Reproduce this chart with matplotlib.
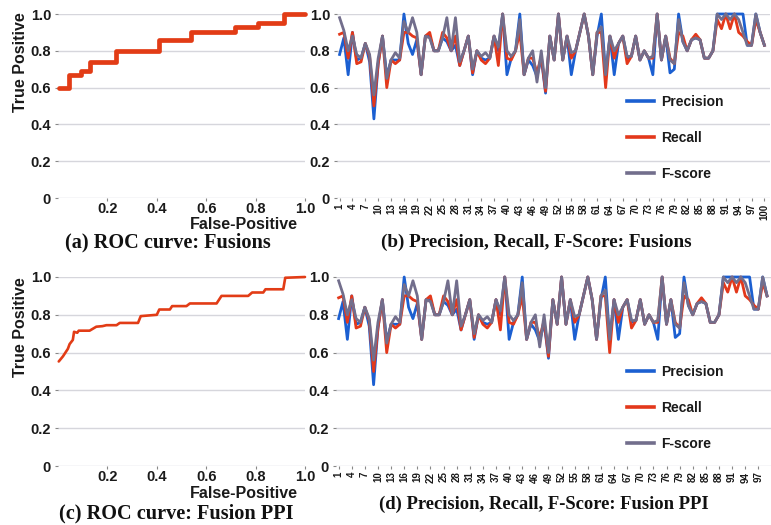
import matplotlib
matplotlib.use("Agg")
import matplotlib.pyplot as plt
import numpy as np

# ---------------- data ----------------
# ROC (a) Fusions: step curve vertices
roc_a_fpr = [0.003, 0.045, 0.045, 0.095, 0.095, 0.13, 0.13, 0.234, 0.234, 0.41, 0.41,
             0.54, 0.54, 0.716, 0.716, 0.81, 0.81, 0.916, 0.916, 1.0]
roc_a_tpr = [0.60, 0.60, 0.67, 0.67, 0.69, 0.69, 0.74, 0.74, 0.80, 0.80, 0.86,
             0.86, 0.90, 0.90, 0.93, 0.93, 0.95, 0.95, 1.00, 1.00]

# ROC (c) Fusion PPI
roc_c_fpr = [0.003, 0.02, 0.04, 0.047, 0.06, 0.065, 0.078, 0.084, 0.128, 0.155, 0.18, 0.196,
             0.237, 0.25, 0.324, 0.335, 0.40, 0.41, 0.453, 0.462, 0.52, 0.534, 0.642,
             0.662, 0.77, 0.786, 0.831, 0.84, 0.912, 0.92, 1.0]
roc_c_tpr = [0.553, 0.58, 0.62, 0.645, 0.667, 0.71, 0.705, 0.716, 0.716, 0.737, 0.74, 0.745,
             0.745, 0.757, 0.757, 0.793, 0.80, 0.828, 0.828, 0.846, 0.846, 0.86, 0.86,
             0.90, 0.90, 0.918, 0.918, 0.935, 0.935, 0.996, 1.0]

# Precision / Recall / F-score per item (Fusions, items 1..100)
precision = [0.78, 0.87, 0.67, 0.90, 0.75, 0.76, 0.84, 0.74, 0.43, 0.73,
             0.88, 0.66, 0.75, 0.75, 0.75, 1.00, 0.84, 0.78, 0.86, 0.67,
             0.88, 0.88, 0.80, 0.80, 0.87, 0.85, 0.80, 0.83, 0.72, 0.80,
             0.88, 0.67, 0.80, 0.76, 0.75, 0.76, 0.88, 0.80, 1.00, 0.67,
             0.76, 0.80, 1.00, 0.67, 0.75, 0.72, 0.66, 0.76, 0.57, 0.88,
             0.75, 1.00, 0.75, 0.88, 0.67, 0.80, 0.90, 1.00, 0.88, 0.67,
             0.88, 1.00, 0.67, 0.88, 0.67, 0.84, 0.88, 0.76, 0.77, 0.88,
             0.75, 0.80, 0.76, 0.67, 1.00, 0.75, 0.88, 0.68, 0.70, 1.00,
             0.85, 0.80, 0.86, 0.87, 0.86, 0.76, 0.76, 0.80, 1.00, 1.00,
             1.00, 1.00, 1.00, 1.00, 1.00, 0.83, 0.83, 1.00, 0.90, 0.83]
recall = [0.89, 0.90, 0.76, 0.90, 0.73, 0.74, 0.84, 0.77, 0.50, 0.73,
          0.88, 0.60, 0.75, 0.73, 0.75, 0.90, 0.90, 0.88, 0.87, 0.67,
          0.88, 0.90, 0.80, 0.80, 0.90, 0.87, 0.80, 0.88, 0.72, 0.80,
          0.88, 0.68, 0.80, 0.75, 0.73, 0.76, 0.88, 0.72, 1.00, 0.76,
          0.75, 0.80, 0.90, 0.67, 0.76, 0.76, 0.68, 0.77, 0.58, 0.88,
          0.75, 1.00, 0.75, 0.88, 0.76, 0.80, 0.90, 1.00, 0.88, 0.67,
          0.90, 0.90, 0.60, 0.88, 0.76, 0.84, 0.88, 0.73, 0.77, 0.88,
          0.75, 0.80, 0.76, 0.76, 1.00, 0.75, 0.88, 0.76, 0.73, 0.90,
          0.88, 0.80, 0.86, 0.89, 0.86, 0.76, 0.76, 0.80, 0.97, 0.92,
          1.00, 0.92, 1.00, 0.90, 0.88, 0.85, 0.83, 0.97, 0.90, 0.83]
fscore = [0.98, 0.91, 0.80, 0.88, 0.78, 0.76, 0.84, 0.78, 0.56, 0.76,
          0.88, 0.65, 0.75, 0.79, 0.76, 0.96, 0.90, 0.98, 0.90, 0.67,
          0.88, 0.87, 0.80, 0.80, 0.87, 0.98, 0.80, 0.98, 0.74, 0.80,
          0.88, 0.70, 0.80, 0.77, 0.79, 0.76, 0.88, 0.82, 1.00, 0.80,
          0.77, 0.80, 0.97, 0.67, 0.76, 0.80, 0.63, 0.80, 0.60, 0.88,
          0.75, 1.00, 0.75, 0.88, 0.79, 0.80, 0.90, 1.00, 0.88, 0.67,
          0.90, 0.93, 0.67, 0.88, 0.80, 0.84, 0.88, 0.77, 0.77, 0.88,
          0.75, 0.80, 0.76, 0.77, 1.00, 0.75, 0.88, 0.75, 0.73, 0.97,
          0.85, 0.80, 0.86, 0.87, 0.86, 0.76, 0.76, 0.80, 1.00, 0.97,
          1.00, 0.97, 1.00, 0.97, 0.90, 0.83, 0.83, 1.00, 0.90, 0.83]

# Fusion PPI (items 1..99)
precision_ppi = precision[:99]
recall_ppi = recall[:99]
fscore_ppi = fscore[:99]

roc_ticks = [0, 0.2, 0.4, 0.6, 0.8, 1.0]
roc_ylabels = ["0", "0.2", "0.4", "0.6", "0.8", "1.0"]
roc_xticks = [0.2, 0.4, 0.6, 0.8, 1.0]
roc_xlabels = ["0.2", "0.4", "0.6", "0.8", "1.0"]
series_names = ["Precision", "Recall", "F-score"]
titles = ["(a) ROC curve: Fusions", "(b) Precision, Recall, F-Score: Fusions",
          "(c) ROC curve: Fusion PPI", "(d) Precision, Recall, F-Score: Fusion PPI"]

# ---------------- styling ----------------
W, H = 771, 525
SANS = "Liberation Sans"
SERIF = "Liberation Serif"
C_BLUE = "#1b5fd1"
C_RED = "#e3381b"
C_GRAY = "#726e8c"
C_ROC = "#e23c16"
GRID = "#d6d6dc"
TXT = "#1a1a1a"

fig = plt.figure(figsize=(W / 100, H / 100), dpi=100)
fig.patch.set_facecolor("white")


def px_axes(left, top, right, bottom):
    return fig.add_axes([left / W, 1 - bottom / H, (right - left) / W, (bottom - top) / H])


def base_style(ax):
    for s in ax.spines.values():
        s.set_visible(False)
    ax.set_ylim(0, 1.0)
    ax.set_yticks(roc_ticks)
    ax.set_yticklabels(roc_ylabels, fontfamily=SANS, fontweight="bold", fontsize=10.5, color=TXT)
    ax.yaxis.grid(True, color=GRID, linewidth=1.0)
    ax.set_axisbelow(True)
    ax.tick_params(axis="y", length=2, width=0.8, color="#888888", pad=3)
    ax.tick_params(axis="x", length=2, width=0.8, color="#888888")


def roc_axes(ax, fpr, tpr, lw):
    base_style(ax)
    ax.set_xlim(0, 1.0)
    ax.set_xticks(roc_xticks)
    ax.set_xticklabels(roc_xlabels, fontfamily=SANS, fontweight="bold", fontsize=10.5, color=TXT)
    ax.tick_params(axis="x", pad=1)
    ax.plot(fpr, tpr, color=C_ROC, linewidth=lw, solid_joinstyle="round",
            solid_capstyle="round", clip_on=False, zorder=3)


def prf_axes(ax, p, r, f, xmax):
    base_style(ax)
    n = len(p)
    x = np.arange(1, n + 1)
    ax.set_xlim(0.4, xmax)
    ticks = list(range(1, n + 1, 3))
    ax.set_xticks(ticks)
    ax.set_xticklabels([str(t) for t in ticks], rotation=90, fontfamily=SANS,
                       fontweight="bold", fontsize=7, color=TXT)
    ax.tick_params(axis="x", pad=2)
    for vals, c, name in zip([p, r, f], [C_BLUE, C_RED, C_GRAY], series_names):
        ax.plot(x, vals, color=c, linewidth=2.0, label=name, clip_on=False, zorder=3)


# (a)
ax_a = px_axes(58, 14, 305, 198)
roc_axes(ax_a, roc_a_fpr, roc_a_tpr, 3.4)
# (c)
ax_c = px_axes(58, 277, 305, 466)
roc_axes(ax_c, roc_c_fpr, roc_c_tpr, 1.9)
# (b)
ax_b = px_axes(337, 14, 770, 198)
prf_axes(ax_b, precision, recall, fscore, 101.3)
# (d)
ax_d = px_axes(336, 277, 771, 466)
prf_axes(ax_d, precision_ppi, recall_ppi, fscore_ppi, 99.9)

for ax, ytop in [(ax_b, 100), (ax_d, 370)]:
    leg = ax.legend(loc="upper left", frameon=False, handlelength=2.0, handletextpad=0.5,
                    labelspacing=1.6,
                    prop={"family": SANS, "weight": "bold", "size": 10},
                    bbox_to_anchor=(614 / W, 1 - (ytop - 18) / H), bbox_transform=fig.transFigure)
    for lh in leg.get_lines():
        lh.set_linewidth(2.6)
    for t in leg.get_texts():
        t.set_color(TXT)


def ftext(x, y, s, **kw):
    fig.text(x / W, 1 - y / H, s, ha="center", va="center", **kw)


for ylab_y in [62, 327]:
    ftext(21, ylab_y, "True Positive", rotation=90, fontfamily=SANS, fontweight="bold",
          fontsize=11.5, color=TXT)
for xlab_y in [224, 494]:
    ftext(244, xlab_y, "False-Positive", fontfamily=SANS, fontweight="bold",
          fontsize=11.5, color=TXT)

ftext(168, 242, titles[0], fontfamily=SERIF, fontweight="bold", fontsize=14.6, color="#111111")
ftext(536, 242, titles[1], fontfamily=SERIF, fontweight="bold", fontsize=13.8, color="#111111")
ftext(176, 513, titles[2], fontfamily=SERIF, fontweight="bold", fontsize=14.6, color="#111111")
ftext(544, 504, titles[3], fontfamily=SERIF, fontweight="bold", fontsize=13.4, color="#111111")

fig.savefig("out.png", dpi=100, facecolor="white")
